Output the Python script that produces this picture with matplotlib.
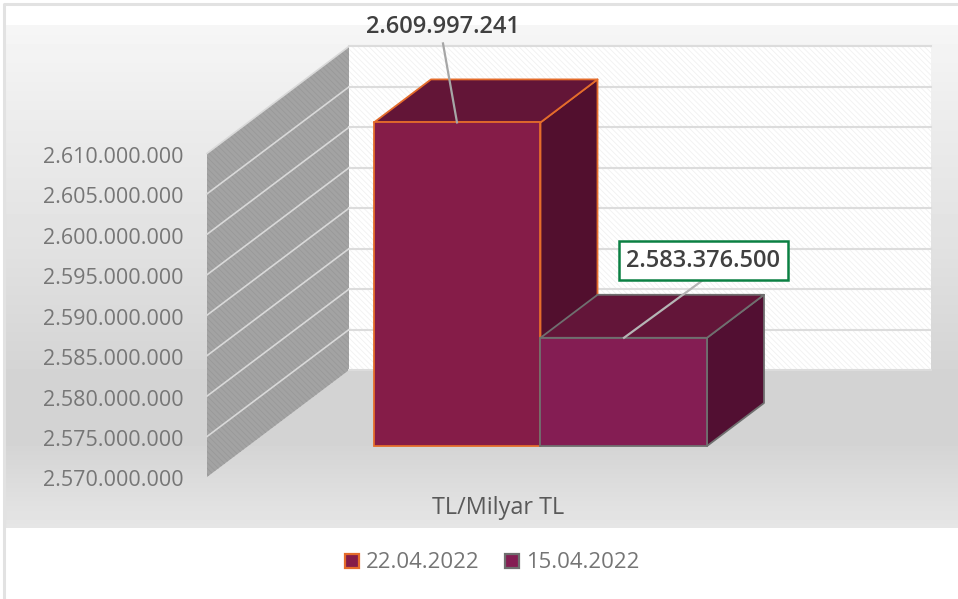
import numpy as np
from matplotlib import pyplot as plt
from matplotlib.patches import Polygon, Rectangle

plt.rcParams['font.family'] = ['Open Sans', 'DejaVu Sans']
plt.rcParams['hatch.linewidth'] = 0.6

# chart data
dates = ['22.04.2022', '15.04.2022']
values = [2609997241, 2583376500]
value_labels = ['2.609.997.241', '2.583.376.500']
category = 'TL/Milyar TL'
tick_values = [2570000000, 2575000000, 2580000000, 2585000000, 2590000000,
               2595000000, 2600000000, 2605000000, 2610000000]
tick_labels = ['2.570.000.000', '2.575.000.000', '2.580.000.000', '2.585.000.000', '2.590.000.000',
               '2.595.000.000', '2.600.000.000', '2.605.000.000', '2.610.000.000']
face_colors = ['#851c48', '#841d53']
edge_colors = ['#e46c2b', '#6f6f6f']
top_colors = ['#631537', '#631539']
side_colors = ['#520f2e', '#520f32']

W, H = 958, 599
fig = plt.figure(figsize=(W / 100, H / 100), dpi=100)
bg = fig.add_axes([0, 0, 1, 1])
bg.set_xlim(0, W)
bg.set_ylim(H, 0)
bg.axis('off')

# background gradient of the chart area
stops_y = [25, 120, 250, 370, 445, 528]
stops_c = [246, 236, 225, 212, 212, 230]
rows = np.interp(np.arange(25, 528), stops_y, stops_c).reshape(-1, 1) / 255
bg.imshow(rows, cmap='gray', vmin=0, vmax=1, extent=(5, W, 528, 25), aspect='auto', zorder=0)
bg.set_xlim(0, W)
bg.set_ylim(H, 0)
bg.plot([4, 4, W], [H, 4, 4], color='#e2e2e2', lw=2.2, zorder=1)

# value axes, x stays in pixels
px_per_value = 40.45 / 5000000
base_value = tick_values[0]
base_px = 446
ax = fig.add_axes([0, 0, 1, 1], facecolor='none')
ax.set_xlim(0, W)
ax.set_ylim(base_value - (H - base_px) / px_per_value, base_value + base_px / px_per_value)
ax.axis('off')

wall_x = 207
back_x = 349
wall_right = 931
wall_depth = 107 / px_per_value
wall_front_shift = -31 / px_per_value
bar_depth_x = 57
bar_depth = 43 / px_per_value
bar_left = 374
bar_width = 166.5

low = tick_values[0] + wall_front_shift
high = tick_values[-1] + wall_front_shift

# back wall
ax.add_patch(Rectangle((back_x, low + wall_depth), wall_right - back_x, high - low,
                       facecolor='white', edgecolor='#f1f1f1', hatch='\\\\\\\\\\\\', lw=0, zorder=2))
# left wall
ax.add_patch(Polygon([(wall_x, low), (back_x, low + wall_depth), (back_x, high + wall_depth), (wall_x, high)],
                     facecolor='#a3a3a3', edgecolor='#999999', hatch='\\\\\\\\\\\\', lw=0, zorder=2))

for v in tick_values:
    y0 = v + wall_front_shift
    if v > tick_values[0]:
        ax.plot([wall_x, back_x], [y0, y0 + wall_depth], color='#d9d9d9', lw=1.2, zorder=3)
    ax.plot([back_x, wall_right], [y0 + wall_depth, y0 + wall_depth], color='#dcdcdc', lw=1.5, zorder=3)

for v, t in zip(tick_values, tick_labels):
    ax.text(184, v + wall_front_shift - 4 / px_per_value, t, ha='right', va='center',
            fontsize=15.5, color='#767676', zorder=6)

# first bar goes in first, the top of the second bar covers the foot of its side face
dx, dv = bar_depth_x, bar_depth
for i, z in [(0, 4.0), (1, 4.1)]:
    x0 = bar_left + i * bar_width
    x1 = x0 + bar_width
    v = values[i]
    ax.add_patch(Polygon([(x1, base_value), (x1 + dx, base_value + dv), (x1 + dx, v + dv), (x1, v)],
                         facecolor=side_colors[i], edgecolor=edge_colors[i], lw=1.3, zorder=z, joinstyle='round'))
    ax.add_patch(Polygon([(x0, v), (x0 + dx, v + dv), (x1 + dx, v + dv), (x1, v)],
                         facecolor=top_colors[i], edgecolor=edge_colors[i], lw=1.3, zorder=z, joinstyle='round'))
    ax.bar(x0, v - base_value, width=bar_width, bottom=base_value, align='edge',
           color=face_colors[i], edgecolor=edge_colors[i], lw=1.3, zorder=z + 0.05)

# data labels and leader lines
ax.plot([443, 457], [values[0] + 79 / px_per_value, values[0]], color='#a6a6a6', lw=1.6, zorder=5)
ax.text(442.5, values[0] + 95 / px_per_value, value_labels[0], ha='center', va='center',
        fontsize=17, fontweight='semibold', color='#404040', zorder=6)
ax.plot([624, 702], [values[1], values[1] + 57 / px_per_value], color='#b5b5b5', lw=1.6, zorder=5)
ax.text(703.5, values[1] + 77 / px_per_value, value_labels[1], ha='center', va='center',
        fontsize=17, fontweight='semibold', color='#404040', zorder=6,
        bbox=dict(boxstyle='square,pad=0.31', facecolor='white', edgecolor='#0b8043', lw=1.8))

# category label
ax.text(498, tick_values[0] - 62 / px_per_value, category, ha='center', va='center',
        fontsize=16.8, color='#595959', zorder=6)

# legend
legend_x = [352, 512]
for i in range(2):
    ax.add_patch(Rectangle((legend_x[i] - 7, tick_values[0] - 122 / px_per_value), 14, 14 / px_per_value,
                           facecolor=face_colors[i], edgecolor=edge_colors[i], lw=1.6, zorder=6))
    ax.text(legend_x[i] + 14, tick_values[0] - 117 / px_per_value, dates[i], ha='left', va='center',
            fontsize=15.9, color='#757575', zorder=6)

fig.savefig('out.png', dpi=100)
